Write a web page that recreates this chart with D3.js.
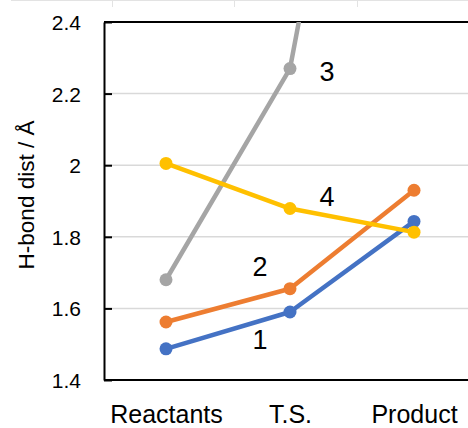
<!DOCTYPE html>
<html>
<head>
  <style type="text/css">
    body { margin: 0; background: #fff; }
    svg { display: block; font-family: "Liberation Sans", Arial, sans-serif; }
    .grid line { stroke: #d9d9d9; stroke-width: 1.5; }
    .axis path, .axis line { stroke: #000; stroke-width: 2; fill: none; }
  </style>
</head>
<body>
  <div class="svg_container"></div>
  <script src="https://cdnjs.cloudflare.com/ajax/libs/d3/7.8.5/d3.min.js"></script>
  <script type="text/javascript">
    // chart data
    var categories = ["Reactants", "T.S.", "Product"];
    var series1 = [1.487, 1.590, 1.843];
    var series2 = [1.562, 1.655, 1.930];
    var series3 = [1.680, 2.270, 4.10];
    var series4 = [2.005, 1.879, 1.813];
    var seriesNames = ["1", "2", "3", "4"];
    var seriesColors = ["#4472C4", "#ED7D31", "#A5A5A5", "#FFC000"];
    var yTicks = [1.4, 1.6, 1.8, 2.0, 2.2, 2.4];
    var yTitle = "H-bond dist / \u00C5";

    var allSeries = [series1, series2, series3, series4];

    var W = 468, H = 428;
    var margin = { top: 22, right: -8, bottom: 48, left: 104 };
    var width = W - margin.left - margin.right,
        height = H - margin.top - margin.bottom;

    var x = d3.scalePoint().domain(categories).range([0, width]).padding(0.5);
    var y = d3.scaleLinear().domain([1.4, 2.4]).range([height, 0]);

    var svg = d3.select(".svg_container").append("svg")
      .attr("width", W).attr("height", H);

    // faint spreadsheet cell lines at the very top
    svg.append("line").attr("x1", 11).attr("x2", W).attr("y1", 0.5).attr("y2", 0.5)
      .attr("stroke", "#e3e3e3");
    [112, 234, 357].forEach(function(cx) {
      svg.append("line").attr("x1", cx + 0.5).attr("x2", cx + 0.5).attr("y1", 0).attr("y2", 7)
        .attr("stroke", "#e3e3e3");
    });

    var g = svg.append("g")
      .attr("transform", "translate(" + margin.left + "," + margin.top + ")");

    g.append("clipPath").attr("id", "plotclip")
      .append("rect").attr("x", 0).attr("y", 0).attr("width", width).attr("height", height);

    // gridlines
    g.append("g").attr("class", "grid")
      .selectAll("line").data(yTicks.slice(1)).enter().append("line")
      .attr("x1", 0).attr("x2", width)
      .attr("y1", function(d) { return y(d); })
      .attr("y2", function(d) { return y(d); });

    // y axis with inward ticks
    var yAxis = g.append("g").attr("class", "axis")
      .call(d3.axisRight(y).tickValues(yTicks).tickSize(8).tickFormat(d3.format("")).tickSizeOuter(0));
    yAxis.selectAll("text").remove();
    yAxis.selectAll(".tick")
      .append("text")
      .attr("x", -23).attr("dy", "0.36em")
      .attr("text-anchor", "end")
      .attr("fill", "#000")
      .style("font-size", "21px")
      .text(function(d) { return d3.format("")(d); });

    // top border line
    g.append("line").attr("x1", 0).attr("x2", width).attr("y1", 0).attr("y2", 0)
      .attr("stroke", "#000").attr("stroke-width", 2);

    // x axis
    var xAxis = g.append("g").attr("class", "axis")
      .attr("transform", "translate(0," + height + ")")
      .call(d3.axisBottom(x).tickSize(0).tickSizeOuter(0));
    xAxis.select(".domain").attr("d", "M0,0H" + width);
    xAxis.selectAll("text")
      .attr("y", 43).attr("dy", 0)
      .attr("fill", "#000")
      .style("font-size", "25px");

    // series
    var line = d3.line()
      .x(function(d, i) { return x(categories[i]); })
      .y(function(d) { return y(d); });

    var plot = g.append("g").attr("clip-path", "url(#plotclip)");
    allSeries.forEach(function(s, k) {
      plot.append("path")
        .datum(s)
        .attr("fill", "none")
        .attr("stroke", seriesColors[k])
        .attr("stroke-width", 4.5)
        .attr("stroke-linejoin", "round")
        .attr("d", line);
      plot.selectAll(".dot" + k)
        .data(s).enter().append("circle")
        .attr("cx", function(d, i) { return x(categories[i]); })
        .attr("cy", function(d) { return y(d); })
        .attr("r", 6.5)
        .attr("fill", seriesColors[k]);
    });

    // series number labels
    var labelPos = [
      { cat: "T.S.", v: 1.513, dx: -30 },
      { cat: "T.S.", v: 1.717, dx: -30 },
      { cat: "T.S.", v: 2.261, dx: 37 },
      { cat: "T.S.", v: 1.913, dx: 37 }
    ];
    g.selectAll(".slabel").data(seriesNames).enter().append("text")
      .attr("class", "slabel")
      .attr("x", function(d, i) { return x(labelPos[i].cat) + labelPos[i].dx; })
      .attr("y", function(d, i) { return y(labelPos[i].v); })
      .attr("dy", "0.36em")
      .attr("text-anchor", "middle")
      .style("font-size", "27px")
      .text(function(d) { return d; });

    // y title
    svg.append("text")
      .attr("transform", "translate(26," + (margin.top + height / 2 - 6) + ") rotate(-90)")
      .attr("dy", "0.36em")
      .attr("text-anchor", "middle")
      .style("font-size", "22.5px")
      .text(yTitle);
  </script>
</body>
</html>
